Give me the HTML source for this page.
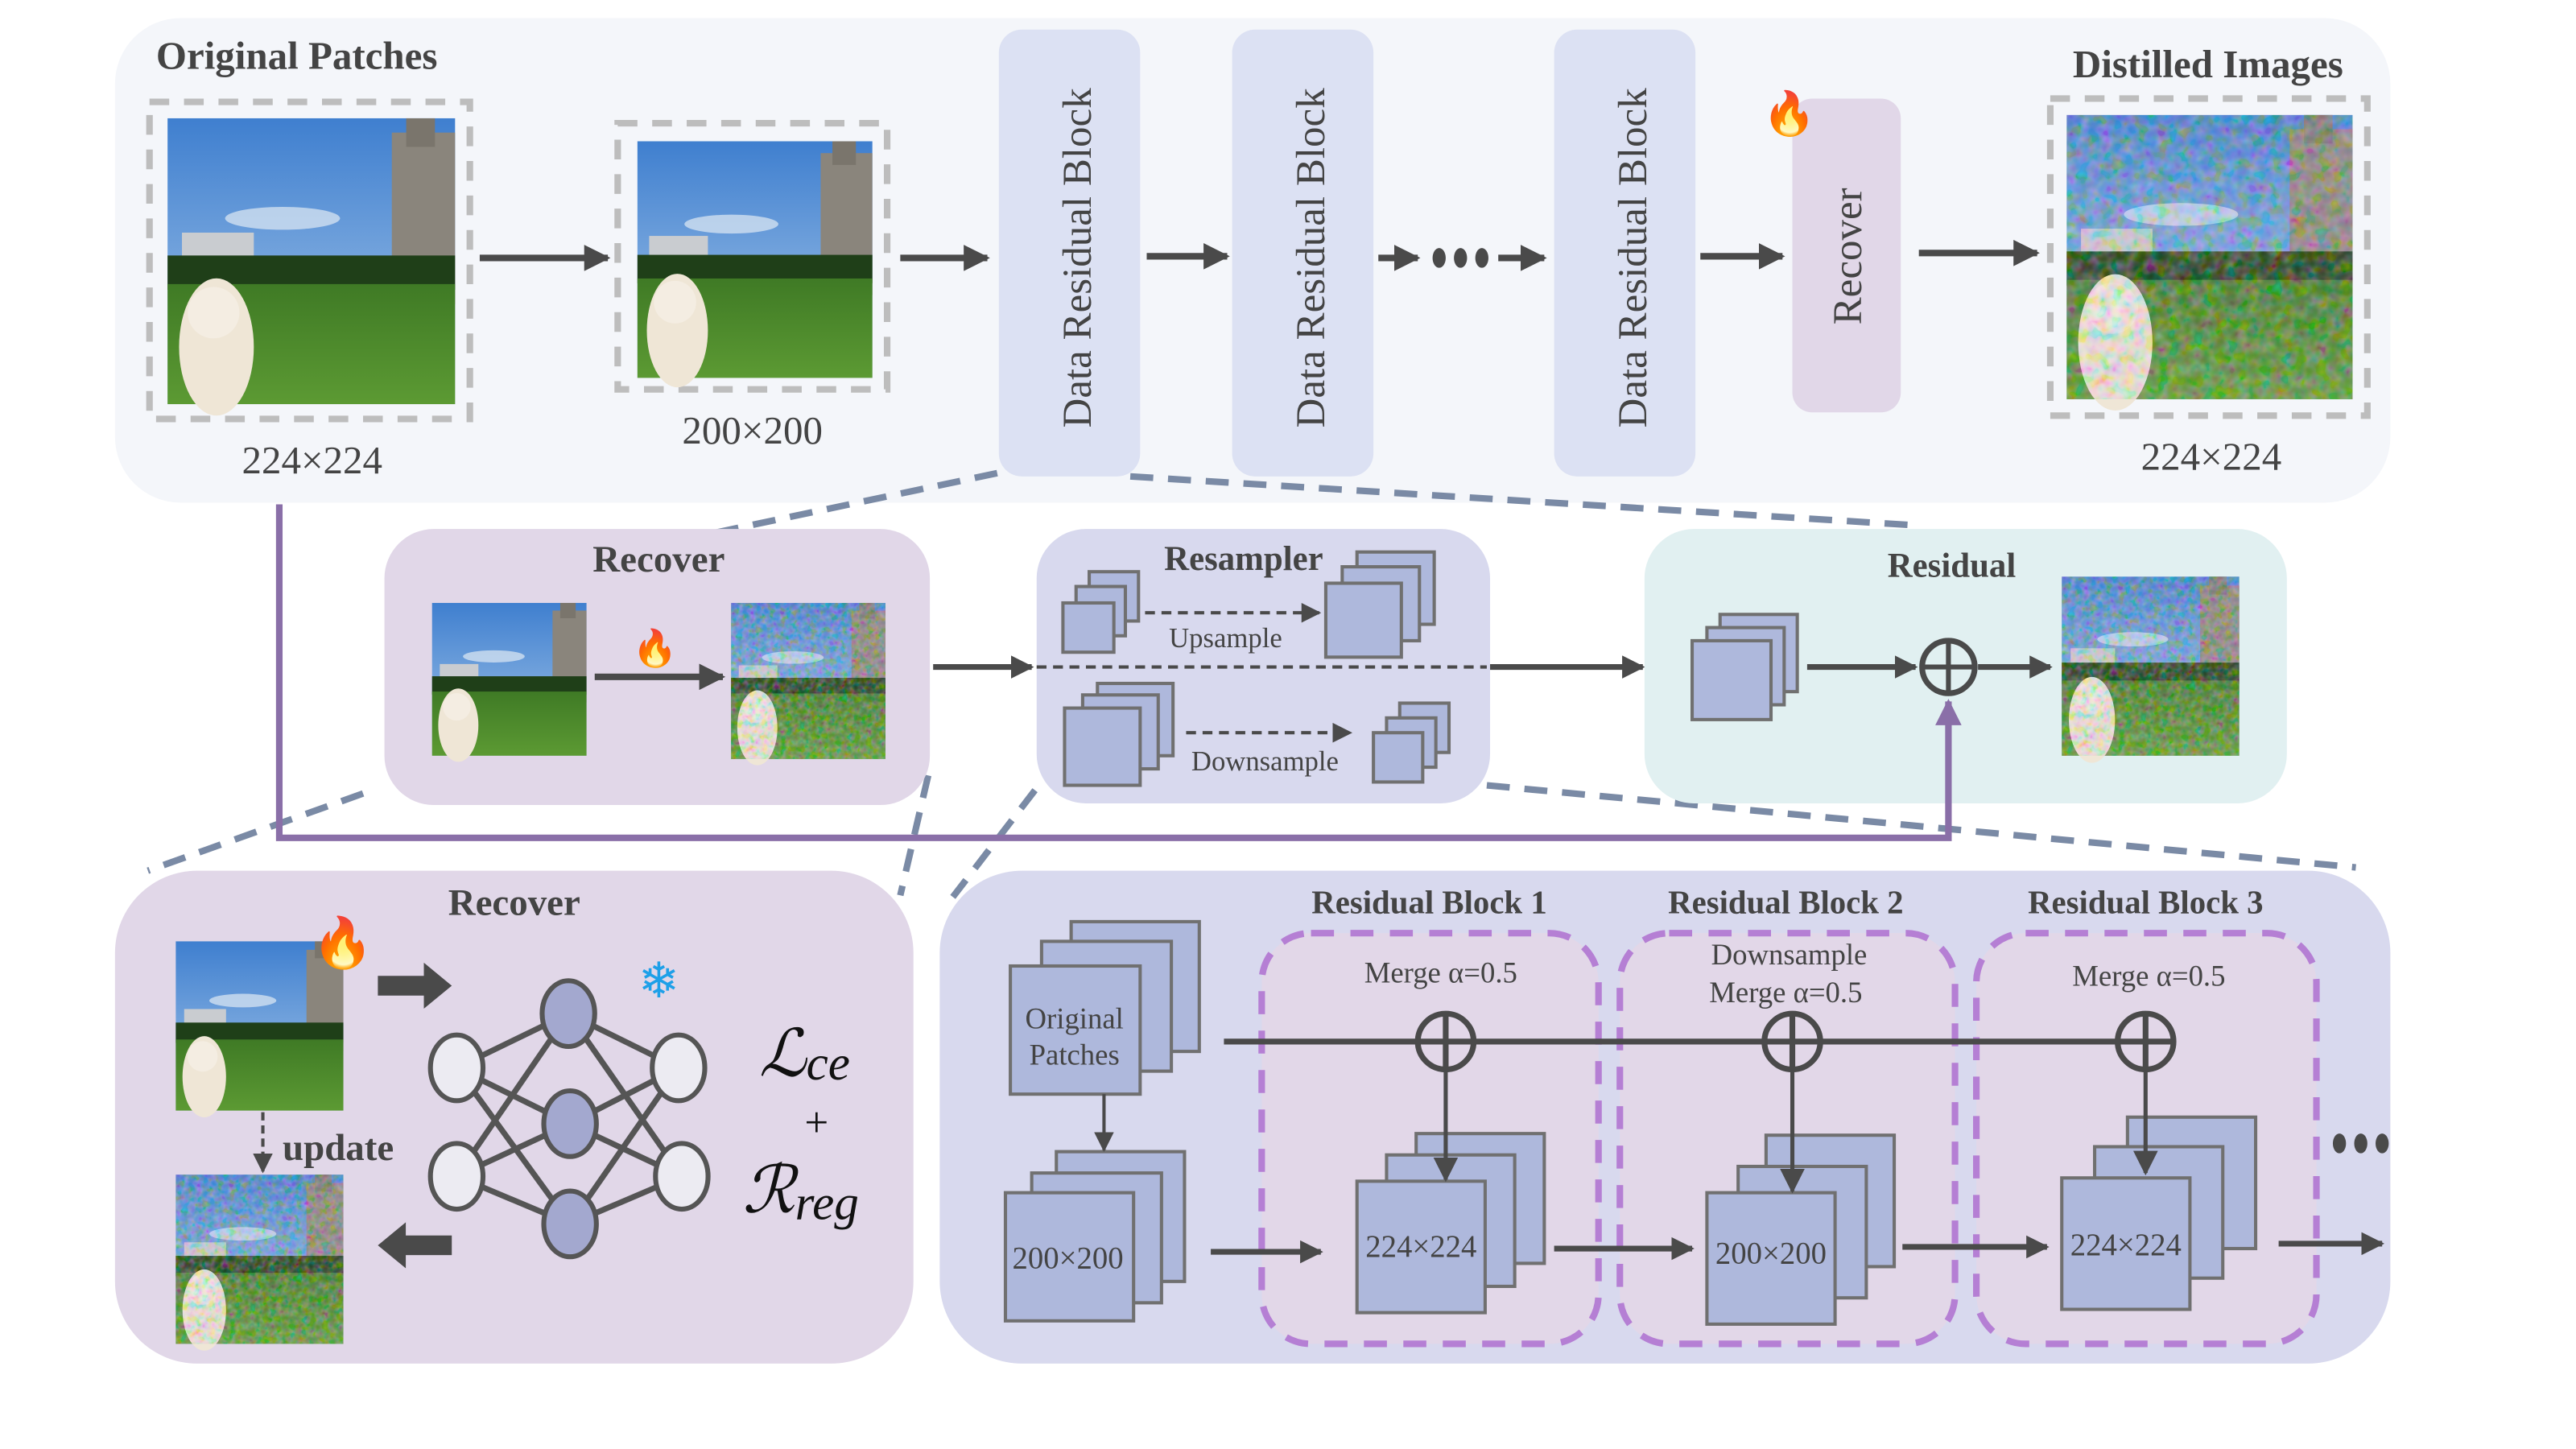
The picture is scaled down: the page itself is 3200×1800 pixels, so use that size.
<!DOCTYPE html>
<html><head><meta charset="utf-8"><style>
html,body{margin:0;padding:0;background:#fff;}
svg{display:block;}
text{font-family:"Liberation Serif",serif;fill:#444;}
.t{font-weight:bold;font-size:23px;}
</style></head><body>
<svg width="3200" height="1800" viewBox="0 0 1568 882" preserveAspectRatio="none" xmlns="http://www.w3.org/2000/svg">
<defs>
<linearGradient id="sky" x1="0" y1="0" x2="0" y2="1"><stop offset="0" stop-color="#3f7fcf"/><stop offset="1" stop-color="#a9c9ea"/></linearGradient>
<linearGradient id="grass" x1="0" y1="0" x2="0" y2="1"><stop offset="0" stop-color="#3f7a25"/><stop offset="1" stop-color="#5c9a33"/></linearGradient>
<filter id="noise"><feTurbulence type="fractalNoise" baseFrequency="0.25" numOctaves="2" result="n"/><feColorMatrix type="saturate" values="3"/><feComponentTransfer><feFuncA type="linear" slope="0.55"/></feComponentTransfer><feComposite in2="SourceGraphic" operator="in"/></filter>
<marker id="ah" viewBox="0 0 10 10" refX="9" refY="5" markerWidth="4" markerHeight="4" orient="auto"><path d="M0,0 L10,5 L0,10 z" fill="#4a4a4a"/></marker>
<marker id="ahs" viewBox="0 0 10 10" refX="9" refY="5" markerWidth="6" markerHeight="6" orient="auto"><path d="M0,0 L10,5 L0,10 z" fill="#4a4a4a"/></marker>
<marker id="ahp" viewBox="0 0 10 10" refX="9" refY="5" markerWidth="4" markerHeight="4" orient="auto"><path d="M0,0 L10,5 L0,10 z" fill="#8a6fa8"/></marker>
<g id="photo">
<rect x="0" y="0" width="100" height="100" fill="url(#sky)"/>
<ellipse cx="40" cy="35" rx="20" ry="4" fill="#dfe9f4" opacity=".7"/>
<rect x="78" y="5" width="22" height="60" fill="#8a857c"/>
<rect x="83" y="0" width="10" height="10" fill="#7a756c"/>
<rect x="5" y="40" width="25" height="15" fill="#c9ccd0"/>
<rect x="0" y="48" width="100" height="12" fill="#1f3f18"/>
<rect x="0" y="58" width="100" height="42" fill="url(#grass)"/>
<ellipse cx="17" cy="80" rx="13" ry="24" fill="#efe6d6"/>
<circle cx="16" cy="68" r="9" fill="#f4ede2"/>
</g>
<g id="dist">
<use href="#photo"/>
<rect x="0" y="0" width="100" height="100" fill="#9aa" filter="url(#noise)"/>
</g>
</defs>

<!-- TOP PANEL -->
<rect x="70" y="11" width="1385" height="295" rx="40" fill="#f4f6fa"/>
<text x="95" y="42" class="t" style="font-size:24px">Original Patches</text>
<rect x="91" y="62" width="195" height="193" fill="none" stroke="#bdbdbd" stroke-width="4" stroke-dasharray="12,9"/>
<use href="#photo" transform="translate(102,72) scale(1.75,1.74)"/>
<text x="190" y="288" font-size="24" text-anchor="middle">224×224</text>
<line x1="292" y1="157" x2="370" y2="157" stroke="#4a4a4a" stroke-width="4" marker-end="url(#ah)"/>
<rect x="376" y="75" width="164" height="162" fill="none" stroke="#bdbdbd" stroke-width="4" stroke-dasharray="12,9"/>
<use href="#photo" transform="translate(388,86) scale(1.43,1.44)"/>
<text x="458" y="270" font-size="24" text-anchor="middle">200×200</text>
<line x1="548" y1="157" x2="601" y2="157" stroke="#4a4a4a" stroke-width="4" marker-end="url(#ah)"/>
<rect x="608" y="18" width="86" height="272" rx="14" fill="#dce1f3"/>
<text transform="translate(664,157) rotate(-90)" font-size="25" text-anchor="middle">Data Residual Block</text>
<line x1="698" y1="156" x2="747" y2="156" stroke="#4a4a4a" stroke-width="4" marker-end="url(#ah)"/>
<rect x="750" y="18" width="86" height="272" rx="14" fill="#dce1f3"/>
<text transform="translate(806,157) rotate(-90)" font-size="25" text-anchor="middle">Data Residual Block</text>
<line x1="839" y1="157" x2="863" y2="157" stroke="#4a4a4a" stroke-width="4" marker-end="url(#ah)"/>
<ellipse cx="876" cy="157" rx="4" ry="6" fill="#4a4a4a"/><ellipse cx="889" cy="157" rx="4" ry="6" fill="#4a4a4a"/><ellipse cx="902" cy="157" rx="4" ry="6" fill="#4a4a4a"/>
<line x1="912" y1="157" x2="940" y2="157" stroke="#4a4a4a" stroke-width="4" marker-end="url(#ah)"/>
<rect x="946" y="18" width="86" height="272" rx="14" fill="#dce1f3"/>
<text transform="translate(1002,157) rotate(-90)" font-size="25" text-anchor="middle">Data Residual Block</text>
<line x1="1035" y1="156" x2="1085" y2="156" stroke="#4a4a4a" stroke-width="4" marker-end="url(#ah)"/>
<rect x="1091" y="60" width="66" height="191" rx="12" fill="#e1d7e8"/>
<text transform="translate(1133,156) rotate(-90)" font-size="25" text-anchor="middle">Recover</text>
<text x="1073" y="78" font-size="26" style="fill:#f05a1e">🔥</text>
<line x1="1168" y1="154" x2="1240" y2="154" stroke="#4a4a4a" stroke-width="4" marker-end="url(#ah)"/>
<text x="1344" y="47" class="t" style="font-size:24px" text-anchor="middle">Distilled Images</text>
<rect x="1248" y="60" width="193" height="193" fill="none" stroke="#bdbdbd" stroke-width="4" stroke-dasharray="12,9"/>
<use href="#dist" transform="translate(1258,70) scale(1.74,1.73)"/>
<text x="1346" y="286" font-size="24" text-anchor="middle">224×224</text>

<!-- dashed zoom connectors -->
<g stroke="#7a8aa5" stroke-width="4" stroke-dasharray="14,9" fill="none">
<line x1="607" y1="288" x2="394" y2="333"/>
<line x1="688" y1="290" x2="1170" y2="320"/>
<line x1="221" y1="483" x2="90" y2="530"/>
<line x1="565" y1="472" x2="548" y2="545"/>
<line x1="630" y1="481" x2="580" y2="546"/>
<line x1="905" y1="478" x2="1434" y2="528"/>
</g>

<!-- MIDDLE: Recover -->
<rect x="234" y="322" width="332" height="168" rx="30" fill="#e1d7e8"/>
<text x="401" y="348" class="t" text-anchor="middle">Recover</text>
<use href="#photo" transform="translate(263,367) scale(.94,.93)"/>
<use href="#dist" transform="translate(445,367) scale(.94,.95)"/>
<text x="385" y="402" font-size="22">🔥</text>
<line x1="362" y1="412" x2="440" y2="412" stroke="#4a4a4a" stroke-width="4" marker-end="url(#ah)"/>
<line x1="568" y1="406" x2="628" y2="406" stroke="#4a4a4a" stroke-width="3.5" marker-end="url(#ah)"/>

<!-- Resampler -->
<rect x="631" y="322" width="276" height="167" rx="30" fill="#d8d9ee"/>
<text x="757" y="347" class="t" text-anchor="middle" style="font-size:21px">Resampler</text>
<g fill="#aeb8dc" stroke="#707070" stroke-width="2">
<rect x="663" y="348" width="30" height="30"/><rect x="655" y="357" width="30" height="30"/><rect x="647" y="367" width="31" height="30"/>
<rect x="826" y="336" width="47" height="44"/><rect x="817" y="345" width="47" height="45"/><rect x="807" y="355" width="46" height="45"/>
<rect x="668" y="416" width="46" height="44"/><rect x="659" y="423" width="46" height="45"/><rect x="648" y="431" width="46" height="47"/>
<rect x="852" y="428" width="30" height="30"/><rect x="844" y="437" width="30" height="30"/><rect x="836" y="446" width="30" height="30"/>
</g>
<line x1="697" y1="373" x2="803" y2="373" stroke="#4a4a4a" stroke-width="2" stroke-dasharray="6,4" marker-end="url(#ahs)"/>
<text x="746" y="394" font-size="17" text-anchor="middle">Upsample</text>
<line x1="631" y1="406" x2="905" y2="406" stroke="#4a4a4a" stroke-width="2" stroke-dasharray="6,4"/>
<line x1="722" y1="446" x2="822" y2="446" stroke="#4a4a4a" stroke-width="2" stroke-dasharray="6,4" marker-end="url(#ahs)"/>
<text x="770" y="469" font-size="17" text-anchor="middle">Downsample</text>
<line x1="907" y1="406" x2="1000" y2="406" stroke="#4a4a4a" stroke-width="3.5" marker-end="url(#ah)"/>

<!-- Residual -->
<rect x="1001" y="322" width="391" height="167" rx="30" fill="#e1f0f1"/>
<text x="1188" y="351" class="t" text-anchor="middle" style="font-size:21px">Residual</text>
<g fill="#aeb8dc" stroke="#707070" stroke-width="2">
<rect x="1047" y="374" width="47" height="47"/><rect x="1039" y="382" width="47" height="47"/><rect x="1030" y="390" width="48" height="48"/>
</g>
<line x1="1100" y1="406" x2="1166" y2="406" stroke="#4a4a4a" stroke-width="3.5" marker-end="url(#ah)"/>
<circle cx="1186" cy="406" r="16" fill="none" stroke="#4a4a4a" stroke-width="3.5"/>
<line x1="1170" y1="406" x2="1202" y2="406" stroke="#4a4a4a" stroke-width="3"/><line x1="1186" y1="390" x2="1186" y2="422" stroke="#4a4a4a" stroke-width="3"/>
<line x1="1204" y1="406" x2="1248" y2="406" stroke="#4a4a4a" stroke-width="3.5" marker-end="url(#ah)"/>
<use href="#dist" transform="translate(1255,351) scale(1.08,1.09)"/>

<!-- purple path -->
<polyline points="170,307 170,510 1186,510 1186,427" fill="none" stroke="#8a6fa8" stroke-width="4" marker-end="url(#ahp)"/>

<!-- BOTTOM LEFT Recover -->
<rect x="70" y="530" width="486" height="300" rx="50" fill="#e1d7e8"/>
<text x="313" y="557" class="t" text-anchor="middle">Recover</text>
<use href="#photo" transform="translate(107,573) scale(1.02,1.03)"/>
<text x="190" y="584" font-size="30">🔥</text>
<line x1="160" y1="677" x2="160" y2="713" stroke="#4a4a4a" stroke-width="2" stroke-dasharray="5,3" marker-end="url(#ahs)"/>
<text x="172" y="706" class="t">update</text>
<use href="#dist" transform="translate(107,715) scale(1.02,1.03)"/>
<polygon points="230,594 258,594 258,586 275,600 258,614 258,606 230,606" fill="#4a4a4a"/>
<polygon points="275,752 247,752 247,744 230,758 247,772 247,764 275,764" fill="#4a4a4a"/>
<g stroke="#555" stroke-width="3.5">
<line x1="278" y1="650" x2="346" y2="617"/><line x1="278" y1="650" x2="347" y2="684"/><line x1="278" y1="650" x2="347" y2="745"/>
<line x1="278" y1="716" x2="346" y2="617"/><line x1="278" y1="716" x2="347" y2="684"/><line x1="278" y1="716" x2="347" y2="745"/>
<line x1="413" y1="650" x2="346" y2="617"/><line x1="413" y1="650" x2="347" y2="684"/><line x1="413" y1="650" x2="347" y2="745"/>
<line x1="415" y1="716" x2="346" y2="617"/><line x1="415" y1="716" x2="347" y2="684"/><line x1="415" y1="716" x2="347" y2="745"/>
</g>
<g stroke="#555" stroke-width="3">
<ellipse cx="278" cy="650" rx="16" ry="20" fill="#ecebf2"/><ellipse cx="278" cy="716" rx="16" ry="20" fill="#ecebf2"/>
<ellipse cx="413" cy="650" rx="16" ry="20" fill="#ecebf2"/><ellipse cx="415" cy="716" rx="16" ry="20" fill="#ecebf2"/>
<ellipse cx="346" cy="617" rx="16" ry="20" fill="#a3a8cf"/><ellipse cx="347" cy="684" rx="16" ry="20" fill="#a3a8cf"/><ellipse cx="347" cy="745" rx="16" ry="20" fill="#a3a8cf"/>
</g>
<text x="401" y="607" font-size="30" text-anchor="middle" style="fill:#1ea0e8;font-family:'DejaVu Sans',sans-serif">❄</text>
<text x="462" y="655" font-size="40" style="fill:#111;font-style:italic">ℒ<tspan font-size="30" dy="2">ce</tspan></text>
<text x="497" y="692" font-size="26" text-anchor="middle" style="fill:#111">+</text>
<text x="452" y="738" font-size="40" style="fill:#111;font-style:italic">ℛ<tspan font-size="30" dy="4">reg</tspan></text>

<!-- BOTTOM RIGHT -->
<rect x="572" y="530" width="883" height="300" rx="50" fill="#d8d9ee"/>
<g fill="#e2d7e8" stroke="#b57fd4" stroke-width="4" stroke-dasharray="14,10">
<rect x="768" y="568" width="205" height="250" rx="30"/>
<rect x="986" y="568" width="204" height="250" rx="30"/>
<rect x="1203" y="568" width="207" height="250" rx="30"/>
</g>
<text x="870" y="556" class="t" text-anchor="middle" style="font-size:20px">Residual Block 1</text>
<text x="1087" y="556" class="t" text-anchor="middle" style="font-size:20px">Residual Block 2</text>
<text x="1306" y="556" class="t" text-anchor="middle" style="font-size:20px">Residual Block 3</text>
<text x="877" y="598" font-size="18" text-anchor="middle">Merge α=0.5</text>
<text x="1089" y="587" font-size="18" text-anchor="middle">Downsample</text>
<text x="1087" y="610" font-size="18" text-anchor="middle">Merge α=0.5</text>
<text x="1308" y="600" font-size="18" text-anchor="middle">Merge α=0.5</text>
<g fill="#aeb8dc" stroke="#707070" stroke-width="2">
<rect x="652" y="561" width="78" height="79"/><rect x="634" y="573" width="79" height="79"/><rect x="615" y="588" width="79" height="78"/>
<rect x="643" y="701" width="78" height="79"/><rect x="628" y="714" width="79" height="79"/><rect x="612" y="726" width="78" height="78"/>
<rect x="862" y="690" width="78" height="79"/><rect x="844" y="703" width="78" height="80"/><rect x="826" y="719" width="78" height="80"/>
<rect x="1075" y="691" width="78" height="80"/><rect x="1058" y="710" width="78" height="80"/><rect x="1039" y="726" width="78" height="80"/>
<rect x="1295" y="680" width="78" height="80"/><rect x="1275" y="698" width="78" height="80"/><rect x="1255" y="717" width="78" height="80"/>
</g>
<text x="654" y="626" font-size="18" text-anchor="middle">Original</text>
<text x="654" y="648" font-size="18" text-anchor="middle">Patches</text>
<text x="650" y="772" font-size="19" text-anchor="middle">200×200</text>
<text x="865" y="765" font-size="19" text-anchor="middle">224×224</text>
<text x="1078" y="769" font-size="19" text-anchor="middle">200×200</text>
<text x="1294" y="764" font-size="19" text-anchor="middle">224×224</text>
<line x1="672" y1="666" x2="672" y2="700" stroke="#4a4a4a" stroke-width="2" marker-end="url(#ahs)"/>
<line x1="745" y1="634" x2="1323" y2="634" stroke="#4a4a4a" stroke-width="3.5"/>
<g fill="none" stroke="#4a4a4a" stroke-width="3.5">
<circle cx="880" cy="634" r="17"/><circle cx="1091" cy="634" r="17"/><circle cx="1306" cy="634" r="17"/>
<line x1="880" y1="617" x2="880" y2="651"/><line x1="1091" y1="617" x2="1091" y2="651"/><line x1="1306" y1="617" x2="1306" y2="651"/>
</g>
<g stroke="#4a4a4a" stroke-width="2.5">
<line x1="880" y1="651" x2="880" y2="718" marker-end="url(#ahs)"/>
<line x1="1091" y1="651" x2="1091" y2="725" marker-end="url(#ahs)"/>
<line x1="1306" y1="651" x2="1306" y2="714" marker-end="url(#ahs)"/>
</g>
<g stroke="#4a4a4a" stroke-width="3.5">
<line x1="737" y1="762" x2="804" y2="762" marker-end="url(#ah)"/>
<line x1="946" y1="760" x2="1030" y2="760" marker-end="url(#ah)"/>
<line x1="1158" y1="759" x2="1246" y2="759" marker-end="url(#ah)"/>
<line x1="1387" y1="757" x2="1450" y2="757" marker-end="url(#ah)"/>
</g>
<ellipse cx="1424" cy="696" rx="4" ry="6" fill="#4a4a4a"/><ellipse cx="1437" cy="696" rx="4" ry="6" fill="#4a4a4a"/><ellipse cx="1450" cy="696" rx="4" ry="6" fill="#4a4a4a"/>
</svg>
</body></html>
